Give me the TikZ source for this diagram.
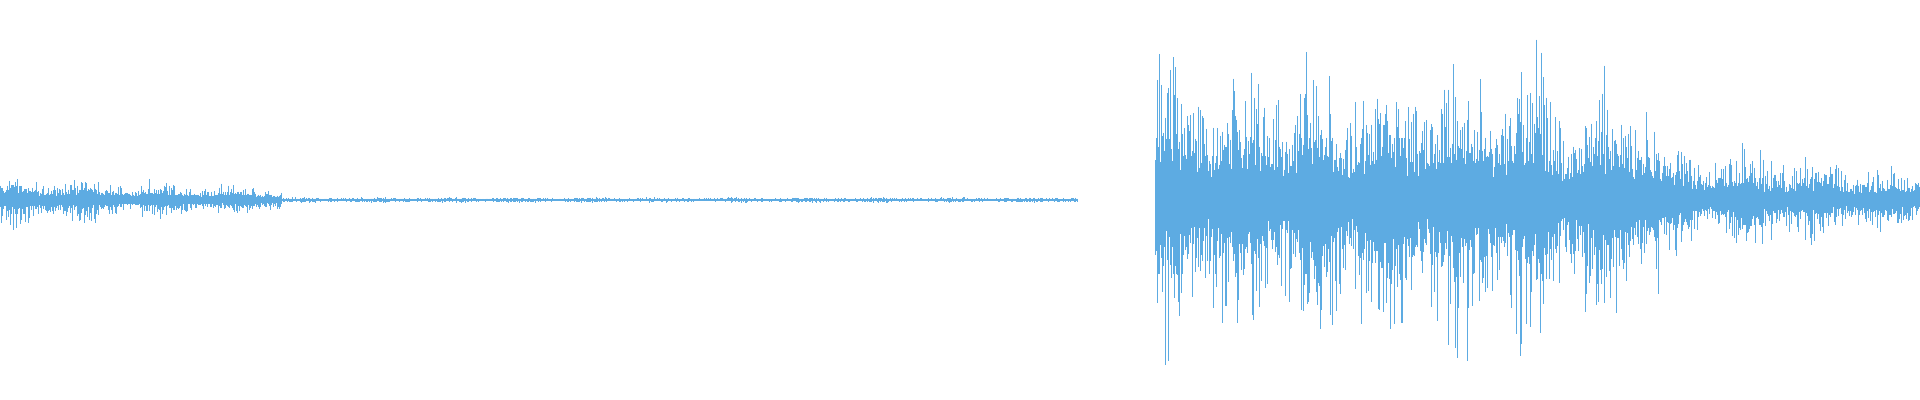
\documentclass[tikz,border=0pt]{standalone}
\definecolor{wave}{RGB}{93,171,226}
\begin{document}
\begin{tikzpicture}[x=0.01cm,y=0.01cm,wv/.style={draw=wave,line width=0.28pt}]
\useasboundingbox (0,0) rectangle (1920,400);
\pgfmathsetseed{7}
\foreach \i in {0,...,1919}{
  \pgfmathsetmacro\a{((\i<282)*(34-\i/282*18) + (\i>=282)*(\i<1078)*3 + (\i>=1155)*(\i<1659)*(185-40*(\i>1560)) + (\i>=1659)*(80-(\i-1659)/261*45))*(0.8+0.2*sin(\i*5))}
  \pgfmathsetmacro\ra{rnd}
  \pgfmathsetmacro\rb{rnd}
  \pgfmathsetmacro\up{min(170,\a*(0.28+0.72*\ra*\ra)*(0.55+0.45*rnd)+0.5)}
  \pgfmathsetmacro\dn{min(170,\a*(0.28+0.72*\rb*\rb)*(0.55+0.45*rnd)+0.5)}
  \ifdim\a pt>0.1pt
    \draw[wv] (\i,200+\up) -- (\i,200-\dn);
    \draw[wv] (\i+0.5,200+0.5*\dn) -- (\i+0.5,200-0.5*\up);
  \fi
}
\end{tikzpicture}
\end{document}
